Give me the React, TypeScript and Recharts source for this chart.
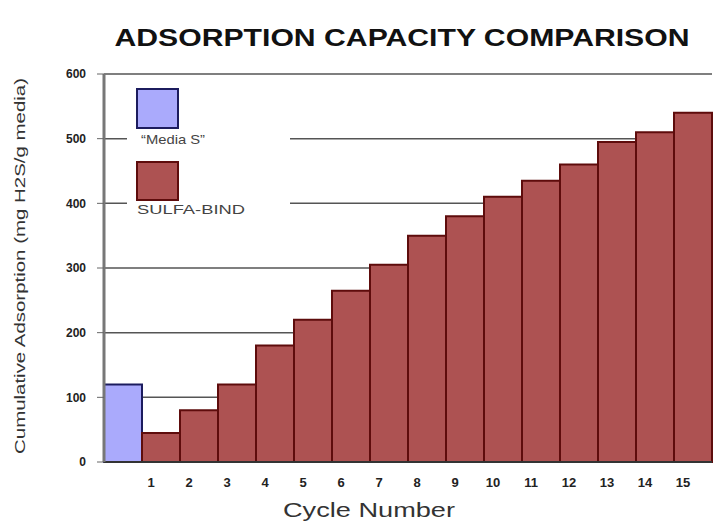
import React from 'react';
import { BarChart, Bar, XAxis, YAxis, CartesianGrid } from 'recharts';

// cycle labels, first slot is the reference media with no cycle number
const cycles = ['', '1', '2', '3', '4', '5', '6', '7', '8', '9', '10', '11', '12', '13', '14', '15'];
const mediaS = [120];
const sulfaBind = [45, 80, 120, 180, 220, 265, 305, 350, 380, 410, 435, 460, 495, 510, 540];
const yTicks = [0, 100, 200, 300, 400, 500, 600];

const data = cycles.map((c, i) => ({
  cycle: c,
  media: i === 0 ? mediaS[0] : undefined,
  sulfa: i > 0 ? sulfaBind[i - 1] : undefined,
}));

const BLUE = '#aaaafc';
const BLUE_EDGE = '#1c1c5e';
const RED = '#ad5252';
const RED_EDGE = '#5e0c0c';
const FONT = '"Liberation Sans", Arial, sans-serif';

const CycleTick = ({ x, y, payload }: any) => (
  <text x={x - 10} y={y + 17} textAnchor="middle" fontSize={13} fontWeight="bold" fill="#222" fontFamily={FONT}>
    {payload.value}
  </text>
);

const App = () => {
  return (
    <div style={{ position: 'absolute', left: 0, top: 0, width: 719, height: 524, background: '#fff' }}>
      <BarChart
        width={719}
        height={524}
        data={data}
        margin={{ top: 74, right: 7, bottom: 0, left: 0 }}
        barCategoryGap={0}
      >
        <CartesianGrid vertical={false} stroke="#555" strokeWidth={1.5} />
        <XAxis
          dataKey="cycle"
          height={62}
          tickLine={false}
          axisLine={{ stroke: '#333', strokeWidth: 2 }}
          tick={<CycleTick />}
          interval={0}
        />
        <YAxis
          width={104}
          domain={[0, 600]}
          ticks={yTicks}
          tickSize={7}
          tickMargin={11}
          axisLine={{ stroke: '#777', strokeWidth: 3 }}
          tickLine={{ stroke: '#666' }}
          tick={{ fontSize: 12, fontWeight: 'bold', fill: '#222', fontFamily: FONT }}
        />
        <YAxis
          yAxisId="r"
          orientation="right"
          width={0}
          domain={[0, 600]}
          tick={false}
          tickLine={false}
          axisLine={{ stroke: '#444', strokeWidth: 2 }}
        />
        <Bar dataKey="media" stackId="a" fill={BLUE} stroke={BLUE_EDGE} strokeWidth={2} isAnimationActive={false} />
        <Bar dataKey="sulfa" stackId="a" fill={RED} stroke={RED_EDGE} strokeWidth={2} isAnimationActive={false} />
      </BarChart>

      <svg width={719} height={524} style={{ position: 'absolute', left: 0, top: 0, pointerEvents: 'none' }}>
        <text x={402} y={46} textAnchor="middle" fontSize={24} fontWeight="bold" fill="#111" fontFamily={FONT}
          textLength={575} lengthAdjust="spacingAndGlyphs">
          ADSORPTION CAPACITY COMPARISON
        </text>
        <text transform="translate(25,266) rotate(-90)" textAnchor="middle" fontSize={14} fill="#333" fontFamily={FONT}
          textLength={376} lengthAdjust="spacingAndGlyphs">
          Cumulative Adsorption (mg H2S/g media)
        </text>
        <text x={369} y={517} textAnchor="middle" fontSize={20} fill="#333" fontFamily={FONT}
          textLength={172} lengthAdjust="spacingAndGlyphs">
          Cycle Number
        </text>

        {/* legend */}
        <rect x={127} y={82} width={163} height={138} fill="#fff" />
        <rect x={137} y={89} width={41} height={39} fill={BLUE} stroke={BLUE_EDGE} strokeWidth={2} />
        <text x={141} y={144} fontSize={13} fill="#444" fontFamily={FONT} textLength={64} lengthAdjust="spacingAndGlyphs">“Media S”</text>
        <rect x={137} y={162} width={41} height={38} fill={RED} stroke={RED_EDGE} strokeWidth={2} />
        <text x={137} y={214} fontSize={13} fill="#444" fontFamily={FONT} textLength={108} lengthAdjust="spacingAndGlyphs">SULFA-BIND</text>
      </svg>
    </div>
  );
};

export default App;
